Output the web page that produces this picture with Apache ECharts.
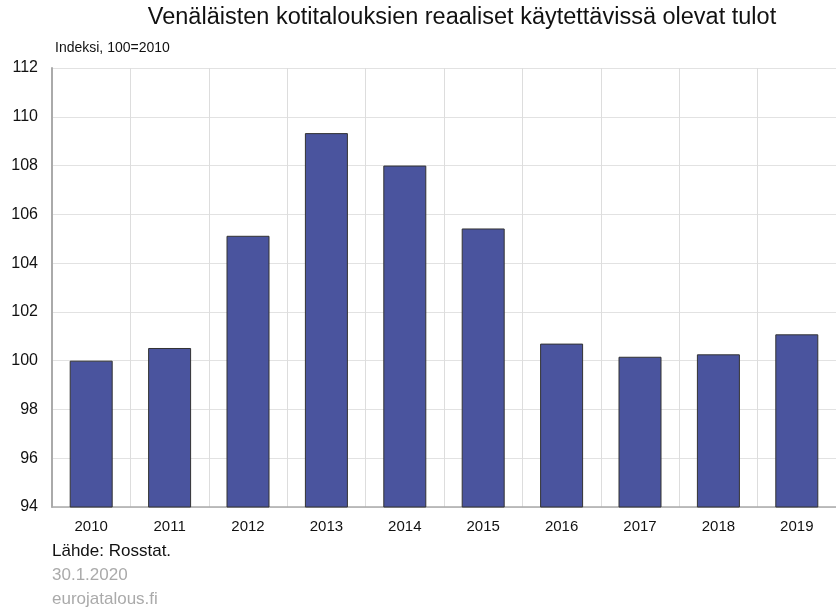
<!DOCTYPE html>
<html><head><meta charset="utf-8">
<script src="https://cdn.jsdelivr.net/npm/echarts@6/dist/echarts.min.js"></script>
<style>html,body{margin:0;padding:0;background:#fff}#c{width:836px;height:609px}</style>
</head><body><div id="c"></div>
<script>
var years = ['2010','2011','2012','2013','2014','2015','2016','2017','2018','2019'];
var values = [100.0, 100.52, 105.12, 109.33, 108.0, 105.42, 100.70, 100.16, 100.26, 101.08];
var yMin = 94, yMax = 112, yStep = 2;
var titleText = 'Venäläisten kotitalouksien reaaliset käytettävissä olevat tulot';
var unitText = 'Indeksi, 100=2010';
var sourceText = 'Lähde: Rosstat.';
var dateText = '30.1.2020';
var siteText = 'eurojatalous.fi';
var F = '"Liberation Sans", Arial, sans-serif';
var chart = echarts.init(document.getElementById('c'), null, {renderer:'canvas'});
chart.setOption({
  animation:false,
  title:[
    {text:titleText, left:462, top:6, padding:0, textAlign:'center', textStyle:{fontFamily:F, fontSize:23.5, fontWeight:'normal', color:'#111'}},
    {text:unitText, left:55, top:41, padding:0, textStyle:{fontFamily:F, fontSize:14, fontWeight:'normal', color:'#111'}},
    {text:sourceText, left:52, top:543, padding:0, textStyle:{fontFamily:F, fontSize:17, fontWeight:'normal', color:'#111'}},
    {text:dateText, left:52, top:567, padding:0, textStyle:{fontFamily:F, fontSize:17, fontWeight:'normal', color:'#aaa'}},
    {text:siteText, left:52, top:591, padding:0, textStyle:{fontFamily:F, fontSize:17, fontWeight:'normal', color:'#aaa'}}
  ],
  grid:{left:52, right:-6, top:68, bottom:102, containLabel:false},
  xAxis:{type:'category', data:years, boundaryGap:true,
    axisLine:{lineStyle:{color:'#aaa', width:1.5}}, axisTick:{show:false},
    axisLabel:{fontFamily:F, fontSize:15, color:'#111', margin:12},
    splitLine:{show:true, lineStyle:{color:'#ddd', width:1}}},
  yAxis:{type:'value', min:yMin, max:yMax, interval:yStep,
    axisLine:{show:true, lineStyle:{color:'#aaa', width:2}}, axisTick:{show:false},
    axisLabel:{fontFamily:F, fontSize:16, color:'#111', margin:14},
    splitLine:{show:true, lineStyle:{color:'#e2e2e2', width:1}}},
  series:[{type:'bar', data:values, barWidth:43,
    itemStyle:{color:'#4a549e', borderColor:'#333', borderWidth:1}}]
});
</script></body></html>
